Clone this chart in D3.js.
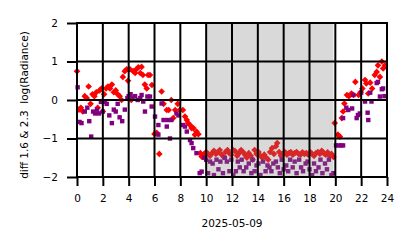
<!DOCTYPE html>
<html>
<head>
<meta charset="utf-8">
<script src="https://cdn.jsdelivr.net/npm/d3@7"></script>
<style>
  body { margin: 0; background: #fff; }
  svg text { font-family: "DejaVu Sans", sans-serif; fill: #000; }
</style>
</head>
<body>
<svg id="chart"></svg>
<script>
// red diamonds (hour of day, value)
const redHour = [0.0,0.15,0.3,0.45,0.6,0.75,0.9,1.05,1.2,1.35,1.5,1.6,1.75,1.9,2.0,2.1,2.25,2.4,2.55,2.7,2.85,3.0,3.15,3.3,3.45,3.55,3.7,3.85,3.95,4.1,4.2,4.35,4.5,4.6,4.75,4.9,5.0,5.1,5.25,5.4,5.5,5.65,5.8,6.0,6.17,6.37,6.55,6.7,6.95,7.1,7.3,7.45,7.6,7.8,7.95,8.2,8.36,8.5,8.6,8.75,8.87,9.0,9.13,9.25,9.4,9.55,9.65,9.8,
  10.0,10.15,10.3,10.45,10.6,10.75,10.9,11.05,11.2,11.35,11.5,11.65,11.8,11.95,12.1,12.25,12.4,12.55,12.7,12.85,13.0,13.15,13.3,13.45,13.6,13.75,13.9,14.05,14.2,14.35,14.5,14.65,14.8,14.95,15.1,15.25,15.4,15.5,15.65,15.8,15.95,16.1,16.25,16.4,16.55,16.7,16.85,17.0,17.15,17.3,17.45,17.6,17.75,17.9,18.05,18.2,18.35,18.5,18.65,18.8,18.95,19.1,19.25,19.4,19.55,19.7,19.85,
  19.95,20.2,20.35,20.5,20.6,20.7,20.9,21.05,21.25,21.4,21.55,21.8,21.95,22.1,22.3,22.4,22.55,22.7,22.85,23.05,23.2,23.3,23.45,23.6,23.7,23.85];
const redVal = [0.75,-0.25,-0.2,-0.3,0.1,0.05,0.35,-0.1,0.15,0.1,0.2,-0.2,0.25,0.3,-0.3,0.15,0.3,0.35,0.3,0.4,0.2,0.25,0.15,0.1,0.0,0.6,0.75,0.8,0.5,0.8,0.0,0.75,0.7,0.8,0.85,0.7,0.86,0.65,0.4,0.3,0.65,0.65,0.39,-0.88,-0.85,-1.4,0.22,-0.1,-0.26,-0.26,0.0,-0.47,-0.26,-0.1,-0.26,-0.26,-0.43,-0.52,-0.6,-0.65,-0.73,-0.73,-0.9,-0.82,-0.89,-1.38,-1.47,-1.42,
  -1.35,-1.4,-1.45,-1.38,-1.32,-1.4,-1.36,-1.3,-1.42,-1.48,-1.35,-1.3,-1.38,-1.42,-1.3,-1.33,-1.45,-1.38,-1.3,-1.35,-1.42,-1.5,-1.38,-1.45,-1.55,-1.3,-1.4,-1.35,-1.45,-1.5,-1.42,-1.5,-1.55,-1.35,-1.25,-1.4,-1.2,-1.12,-1.35,-1.45,-1.4,-1.35,-1.42,-1.38,-1.35,-1.42,-1.38,-1.35,-1.4,-1.42,-1.36,-1.4,-1.38,-1.42,-1.35,-1.4,-1.45,-1.38,-1.35,-1.4,-1.32,-1.38,-1.42,-1.36,-1.45,-1.4,-1.48,
  -0.6,-0.9,-0.95,-0.47,-0.3,-0.09,0.13,0.1,0.17,0.13,0.47,0.13,0.2,0.3,0.52,0.43,0.17,0.45,0.3,0.65,0.73,0.9,0.6,1.0,0.82,0.9];

// purple squares (hour of day, value)
const purpleHour = [0.05,0.2,0.35,0.6,0.8,0.95,1.1,1.25,1.4,1.55,1.7,1.85,2.0,2.15,2.3,2.5,2.7,2.85,3.0,3.15,3.3,3.5,3.7,3.9,4.0,4.15,4.3,4.5,4.7,4.9,5.0,5.13,5.26,5.45,5.65,5.78,6.04,6.3,6.3,6.55,6.7,6.95,7.0,7.2,7.3,7.7,7.85,8.2,8.36,8.5,8.75,8.87,9.0,9.25,9.5,9.65,9.85,
  10.0,10.15,10.3,10.5,10.6,10.8,10.95,11.1,11.3,11.45,11.6,11.8,11.95,12.1,12.3,12.45,12.6,12.75,12.9,13.1,13.3,13.5,13.6,13.75,13.9,14.05,14.2,14.4,14.6,14.75,14.9,15.05,15.2,15.4,15.55,15.7,15.85,16.0,16.2,16.35,16.5,16.7,16.85,17.0,17.2,17.35,17.5,17.7,17.85,18.0,18.2,18.35,18.5,18.7,18.85,19.0,19.2,19.35,19.5,19.7,19.85,
  20.05,20.25,20.45,20.6,20.6,20.85,21.0,21.3,21.4,21.65,21.75,21.9,22.0,22.3,22.5,22.55,22.7,22.8,23.2,23.3,23.45,23.6,23.7,23.8];
const purpleVal = [0.33,-0.57,-0.6,-0.3,-0.2,-0.55,-0.95,-0.3,-0.35,-0.25,-0.35,-0.05,-0.3,-0.05,-0.1,-0.4,-0.6,-0.25,-0.3,-0.1,-0.45,-0.55,-0.25,0.05,0.1,0.15,0.05,0.1,0.0,0.05,0.13,-0.04,-0.3,0.09,0.09,-0.17,-0.43,-0.65,-0.9,-0.09,-0.52,-0.69,-0.52,-1.0,-0.52,-0.35,-0.4,-0.65,-0.69,-0.82,-1.04,-1.12,-1.25,-1.38,-1.9,-1.86,-1.5,
  -1.55,-1.9,-1.6,-1.65,-1.95,-1.55,-1.8,-1.6,-1.9,-1.5,-1.6,-1.85,-1.55,-1.95,-1.85,-1.6,-1.75,-1.55,-1.85,-1.75,-1.65,-1.9,-1.55,-1.85,-1.7,-1.65,-1.95,-1.6,-1.85,-1.7,-1.75,-1.85,-1.65,-1.6,-1.75,-1.9,-1.55,-1.8,-1.7,-1.85,-1.55,-1.75,-1.6,-1.9,-1.55,-1.75,-1.85,-1.65,-1.6,-1.8,-1.95,-1.65,-1.85,-1.75,-1.55,-1.9,-1.65,-1.8,-1.55,-1.95,-1.9,
  -1.18,-1.18,-1.18,-1.18,-0.47,-0.2,-0.26,-0.22,0.13,-0.47,-0.39,-0.35,0.19,-0.04,-0.33,-0.52,0.19,-0.04,0.44,0.47,0.09,0.28,0.3,0.1];

const xTicks = [0,2,4,6,8,10,12,14,16,18,20,22,24];
const yTicks = [-2,-1,0,1,2];
const shadeSpan = [10, 19.85];

const W = 414, H = 248;
const margin = {top: 23, right: 27, bottom: 71, left: 77};
const width = W - margin.left - margin.right;
const height = H - margin.top - margin.bottom;

const svg = d3.select('#chart').attr('width', W).attr('height', H);
const chart = svg.append('g').attr('transform', `translate(${margin.left},${margin.top})`);

const x = d3.scaleLinear().domain([0, 24]).range([0, width]);
const y = d3.scaleLinear().domain([-2, 2]).range([height, 0]);

const red = redHour.map((h, i) => ({h, v: redVal[i]}));
const purple = purpleHour.map((h, i) => ({h, v: purpleVal[i]}));

// points
chart.append('g').selectAll('path')
  .data(red)
  .join('path')
    .attr('d', d3.symbol(d3.symbolSquare, 22))
    .attr('transform', d => `translate(${x(d.h)},${y(d.v)}) rotate(45)`)
    .attr('fill', '#ff0000');

chart.append('g').selectAll('rect')
  .data(purple)
  .join('rect')
    .attr('x', d => x(d.h) - 2.2)
    .attr('y', d => y(d.v) - 2.2)
    .attr('width', 4.4)
    .attr('height', 4.4)
    .attr('fill', '#800080');

// grey band over the points
chart.append('rect')
  .attr('x', x(shadeSpan[0]))
  .attr('y', 0)
  .attr('width', x(shadeSpan[1]) - x(shadeSpan[0]))
  .attr('height', height)
  .attr('fill', '#808080')
  .attr('opacity', 0.3);

// grid lines
const grid = chart.append('g').attr('stroke', '#000').attr('stroke-width', 2);
grid.selectAll('line.v')
  .data(xTicks)
  .join('line')
    .attr('class', 'v')
    .attr('x1', d => x(d)).attr('x2', d => x(d))
    .attr('y1', 0).attr('y2', height);
grid.selectAll('line.h')
  .data(yTicks)
  .join('line')
    .attr('class', 'h')
    .attr('x1', 0).attr('x2', width)
    .attr('y1', d => y(d)).attr('y2', d => y(d));

// axes (outward ticks)
const xAxis = d3.axisBottom(x).tickValues(xTicks).tickSizeInner(9).tickSizeOuter(0).tickPadding(9)
  .tickFormat(d3.format('d'));
const yAxis = d3.axisLeft(y).tickValues(yTicks).tickSizeInner(10).tickSizeOuter(0).tickPadding(9)
  .tickFormat(d => d < 0 ? '\u2212' + Math.abs(d) : d);

const xg = chart.append('g').attr('transform', `translate(0,${height})`).call(xAxis);
const yg = chart.append('g').call(yAxis);

[xg, yg].forEach(g => {
  g.select('.domain').remove();
  g.selectAll('.tick line').attr('stroke', '#000').attr('stroke-width', 2);
  g.selectAll('.tick text').attr('font-size', 10.5).attr('font-family', 'DejaVu Sans').attr('fill', '#000');
});

chart.append('rect')
  .attr('width', width).attr('height', height)
  .attr('fill', 'none').attr('stroke', '#000').attr('stroke-width', 2);

// labels
svg.append('text')
  .attr('x', margin.left + width / 2)
  .attr('y', 227)
  .attr('text-anchor', 'middle')
  .attr('font-size', 10.5)
  .text('2025-05-09');

svg.append('text')
  .attr('transform', `translate(28,105) rotate(-90)`)
  .attr('text-anchor', 'middle')
  .attr('font-size', 10.5)
  .style('white-space', 'pre')
  .text('diff 1.6 & 2.3  log(Radiance)');
</script>
</body>
</html>
